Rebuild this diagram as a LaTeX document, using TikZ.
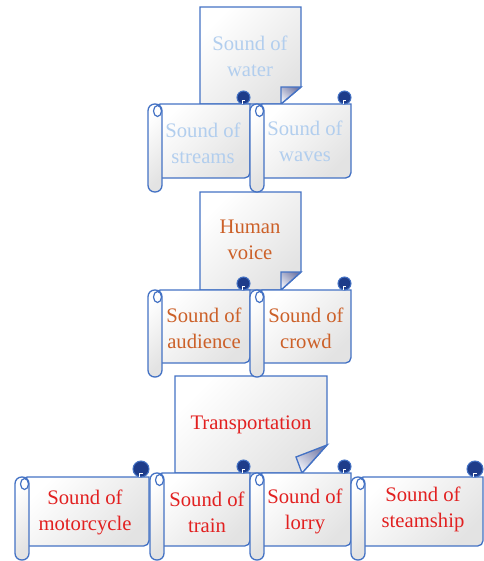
\documentclass[tikz,border=0pt]{standalone}
\usepackage{fontspec}
\setmainfont{Liberation Serif}

\definecolor{edgeblue}{RGB}{68,114,196}
\definecolor{curlblue}{RGB}{30,60,138}
\definecolor{flapdark}{RGB}{118,124,168}
\definecolor{flaplight}{RGB}{236,238,246}
\definecolor{waterblue}{RGB}{178,206,238}
\definecolor{voiceorange}{RGB}{204,96,40}
\definecolor{transred}{RGB}{226,32,32}

\tikzset{every picture/.style={line width=0.75pt}}
\tikzset{
  sheet/.style={draw=edgeblue, line width=1pt, top color=white, bottom color=black!11, shading angle=45},
  flap/.style={draw=edgeblue, line width=1pt, bottom color=flaplight, top color=flapdark, shading angle=-40},
  curl/.style={draw=edgeblue, fill=curlblue, line width=0.8pt},
  curlmark/.style={draw=white, line width=0.5pt},
  loopline/.style={draw=edgeblue, line width=0.9pt},
  label/.style={font=\fontsize{15.5}{19.5}\selectfont, align=center},
  rowone/.style={label, text=waterblue},
  rowtwo/.style={label, text=voiceorange},
  rowthree/.style={label, text=transred}
}

% scroll: left, right, top of sheet, bottom of roll, curl radius
\newcommand{\scrollbox}[5]{%
  \draw[sheet] (#1+7,#3) -- (#2,#3) [rounded corners=4pt] -- (#2,#4-14) -- (#1+7,#4-14) -- cycle;
  \draw[curl] (#2-#5,#3-#5) circle (#5);
  \draw[curlmark] (#2-#5-1.5,#3) -- (#2-#5-1.5,#3-#5*0.5) -- (#2-#5+1.5,#3-#5*0.5);
  \draw[sheet, rounded corners=5pt] (#1,#3) rectangle (#1+14,#4);
  \draw[loopline] (#1+9.5,#3+7) ellipse (4 and 5.5);
}

\begin{document}
\begin{tikzpicture}[x=0.75pt,y=0.75pt,yscale=-1,xscale=1]
\useasboundingbox (0,0) rectangle (484,561);

%Shape: Folded Page
\draw[sheet] (200,7) -- (301,7) -- (301,87) -- (281,104) -- (200,104) -- cycle ;
\draw[flap] (281,87) -- (301,87) -- (281,104) -- cycle ;
%Shape: Folded Page
\draw[sheet] (200,192) -- (301,192) -- (301,272) -- (281,290) -- (200,290) -- cycle ;
\draw[flap] (281,272) -- (301,272) -- (281,290) -- cycle ;
%Shape: Folded Page
\draw[sheet] (175,376) -- (327,376) -- (327,445) -- (302,473) -- (175,473) -- cycle ;
\draw[flap] (327,445) -- (296,457) -- (302,473) -- cycle ;

%Shape: Scrolls
\scrollbox{148}{250}{104}{192}{6.5}
\scrollbox{250}{351}{104}{192}{6.5}
\scrollbox{148}{250}{290}{377}{6.5}
\scrollbox{250}{351}{290}{377}{6.5}
\scrollbox{15}{149}{477}{560}{8}
\scrollbox{150}{250}{473}{560}{6.5}
\scrollbox{250}{351}{473}{560}{6.5}
\scrollbox{351}{483}{477}{560}{8}

% Text Node
\draw (250,56) node (water) [rowone] {Sound of\\water};
% Text Node
\draw (203,143) node (streams) [rowone] {Sound of\\streams};
% Text Node
\draw (305,141) node (waves) [rowone] {Sound of\\waves};
% Text Node
\draw (250,240) node (voice) [rowtwo] {Human\\voice};
% Text Node
\draw (204,328) node (audience) [rowtwo] {Sound of\\audience};
% Text Node
\draw (306,328) node (crowd) [rowtwo] {Sound of\\crowd};
% Text Node
\draw (251,425) node (transport) [rowthree] {Transportation};
% Text Node
\draw (85,512) node (motorcycle) [rowthree] {Sound of\\motorcycle};
% Text Node
\draw (207,512) node (train) [rowthree] {Sound of\\train};
% Text Node
\draw (305,511) node (lorry) [rowthree] {Sound of\\lorry};
% Text Node
\draw (423,509) node (steamship) [rowthree] {Sound of\\steamship};

\end{tikzpicture}
\end{document}
